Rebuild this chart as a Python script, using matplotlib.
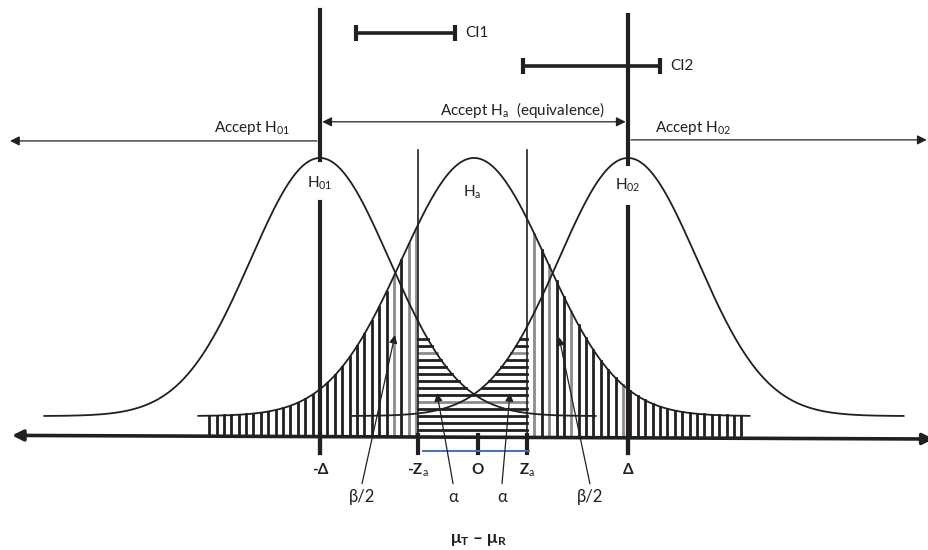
import numpy as np
import matplotlib
matplotlib.use("Agg")
import matplotlib.pyplot as plt

plt.rcParams["font.family"] = ["Lato", "DejaVu Sans"]
plt.rcParams["mathtext.fontset"] = "custom"
plt.rcParams["mathtext.rm"] = "Lato"
plt.rcParams["mathtext.it"] = "Lato"
plt.rcParams["mathtext.bf"] = "Lato:bold"

INK = "#231f20"
GREY = "#8c8c8c"
BLUE = "#3d72b8"

# conceptual units: O = 0, Delta = 1, curve peak = 1
curve_names = ["H$_\\mathrm{01}$", "H$_\\mathrm{a}$", "H$_\\mathrm{02}$"]
curve_centers = [-1.0, 0.0, 1.0]
curve_sd = [0.45, 0.47, 0.45]
tail_half = 1.79
ZA_LO, ZA_HI = -0.364, 0.344

tick_pos = [-1.0, -0.364, 0.026, 0.344, 1.0]
tick_labels = ["-Δ", "-Z$_\\mathrm{a}$", "O", "Z$_\\mathrm{a}$", "Δ"]

# confidence intervals (lo, hi, level)
ci_names = ["CI1", "CI2"]
ci_lo = [-0.766, 0.318]
ci_hi = [-0.123, 1.208]
ci_y = [1.484, 1.357]

# error-rate labels: text, label pos, arrow tip
err_labels = ["β/2", "α", "α", "β/2"]
err_text_x = [-0.727, -0.136, 0.182, 0.753]
err_tip_x = [-0.513, -0.24, 0.234, 0.552]
err_tip_y = [0.314, 0.089, 0.089, 0.306]

AXIS_Y = -0.075


def bell(x, c, s):
    return np.exp(-(x - c) ** 2 / (2 * s ** 2))


fig = plt.figure(figsize=(9.29, 5.5), dpi=100)
ax = fig.add_axes([0, 0, 1, 1])
ax.set_xlim(-3.078, 2.955)
ax.set_ylim(-0.519, 1.612)
ax.axis("off")

# the three distributions
for name, c, s in zip(curve_names, curve_centers, curve_sd):
    xx = np.linspace(c - tail_half, c + tail_half, 400)
    ax.plot(xx, bell(xx, c, s), color=INK, lw=1.3, zorder=3)

# vertical hatching under H_a outside +-Za (beta/2 regions)
c_a, s_a = curve_centers[1], curve_sd[1]
left_x = np.arange(-1.72, ZA_LO - 0.01, 0.048)
right_x = np.arange(ZA_HI + 0.048, 1.74, 0.048)
grey_left = {len(left_x) - 1, len(left_x) - 2, len(left_x) - 4, 15}
grey_right = {0, 2, 5, 12}
for i, xv in enumerate(left_x):
    col = GREY if i in grey_left else INK
    ax.plot([xv, xv], [AXIS_Y, bell(xv, c_a, s_a)], color=col, lw=2.0, zorder=2)
for i, xv in enumerate(right_x):
    col = GREY if i in grey_right else INK
    ax.plot([xv, xv], [AXIS_Y, bell(xv, c_a, s_a)], color=col, lw=2.0, zorder=2)

# horizontal hatching between -Za and Za under H01 / H02 (alpha regions)
levels = np.arange(-0.054, 0.32, 0.027)
for j, yv in enumerate(levels):
    col = GREY if j in (4, 11) else INK
    if yv <= bell(0.0, curve_centers[0], curve_sd[0]):
        ax.plot([ZA_LO, ZA_HI], [yv, yv], color=col, lw=2.0, zorder=2)
    else:
        d = np.sqrt(2 * np.log(1 / yv))
        xl = curve_centers[0] + curve_sd[0] * d
        xr = curve_centers[2] - curve_sd[2] * d
        ax.plot([ZA_LO, xl], [yv, yv], color=col, lw=2.0, zorder=2)
        ax.plot([xr, ZA_HI], [yv, yv], color=col, lw=2.0, zorder=2)

# thin critical-value lines
for xv in (ZA_LO, ZA_HI):
    ax.plot([xv, xv], [AXIS_Y, 1.03], color=INK, lw=1.2, zorder=3)

# thick equivalence-limit lines with gap for the labels
for xv, gap_top, gap_bot, top in [(-1.0, 0.992, 0.829, 1.574), (1.0, 0.977, 0.81, 1.554)]:
    ax.plot([xv, xv], [gap_top, top], color=INK, lw=3, zorder=4)
    ax.plot([xv, xv], [-0.143, gap_bot], color=INK, lw=3, zorder=4)

# curve labels
label_y = [0.903, 0.868, 0.895]
label_x = [-1.0, -0.01, 1.0]
for name, xv, yv in zip(curve_names, label_x, label_y):
    ax.text(xv, yv, name, ha="center", va="center", fontsize=11, color=INK)

# horizontal axis, arrows at both ends
ax.annotate("", xy=(-3.0, AXIS_Y), xytext=(2.985, AXIS_Y - 0.014),
            arrowprops=dict(arrowstyle="<|-|>", lw=2.6, color=INK, mutation_scale=16,
                            shrinkA=0, shrinkB=0), zorder=5)

# ticks and tick labels
for xv, lab in zip(tick_pos, tick_labels):
    ax.plot([xv, xv], [AXIS_Y, -0.143], color=INK, lw=3, zorder=5)
    ax.text(xv, -0.209, lab, ha="center", va="center", fontsize=11,
            fontweight="bold", color=INK)
ax.plot([-0.33, 0.36], [-0.136, -0.136], color=BLUE, lw=1.4, zorder=5)

# error-rate labels with arrows
for lab, tx, px, py in zip(err_labels, err_text_x, err_tip_x, err_tip_y):
    ax.text(tx, -0.314, lab, ha="center", va="center", fontsize=12, color=INK)
    ax.annotate("", xy=(px, py), xytext=(tx, -0.262),
                arrowprops=dict(arrowstyle="-|>", lw=0.9, color=INK, mutation_scale=12,
                                shrinkA=0, shrinkB=0), zorder=6)

ax.text(0.03, -0.48, "μ$_\\mathbf{T}$ – μ$_\\mathbf{R}$", ha="center", va="center",
        fontsize=12.5, fontweight="bold", color=INK)

# acceptance regions
arrow_kw = dict(lw=0.9, color=INK, mutation_scale=14, shrinkA=0, shrinkB=0)
ax.annotate("", xy=(-3.013, 1.066), xytext=(-1.02, 1.066),
            arrowprops=dict(arrowstyle="-|>", **arrow_kw))
ax.annotate("", xy=(2.94, 1.07), xytext=(1.02, 1.07),
            arrowprops=dict(arrowstyle="-|>", **arrow_kw))
ax.annotate("", xy=(-0.985, 1.14), xytext=(0.985, 1.14),
            arrowprops=dict(arrowstyle="<|-|>", **arrow_kw))
ax.text(-1.195, 1.116, "Accept H$_\\mathrm{01}$", ha="right", va="center", fontsize=11, color=INK)
ax.text(1.175, 1.116, "Accept H$_\\mathrm{02}$", ha="left", va="center", fontsize=11, color=INK)
ax.text(0.318, 1.186, "Accept H$_\\mathrm{a}$  (equivalence)", ha="center", va="center",
        fontsize=11, color=INK)

# confidence intervals
for name, lo, hi, yv in zip(ci_names, ci_lo, ci_hi, ci_y):
    mid = (lo + hi) / 2
    ax.errorbar(mid, yv, xerr=(hi - lo) / 2, fmt="none", ecolor=INK, elinewidth=2.6,
                capsize=6, capthick=3, zorder=5)
    ax.text(hi + 0.065, yv, name, ha="left", va="center", fontsize=11, color=INK)

fig.savefig("out.png", dpi=100)
